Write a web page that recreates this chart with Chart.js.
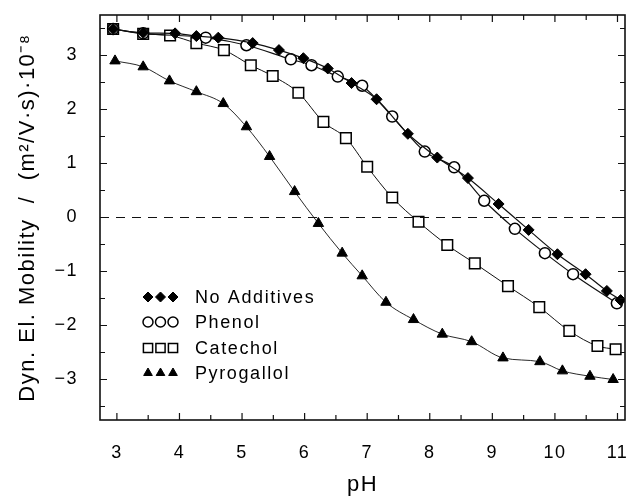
<!DOCTYPE html>
<html>
<head>
<meta charset="utf-8">
<script src="https://cdn.jsdelivr.net/npm/chart.js@4.4.0/dist/chart.umd.min.js"></script>
<style>
  body { margin: 0; background: #fff; }
  #wrap { width: 626px; height: 501px; }
</style>
</head>
<body>
<div id="wrap"><canvas id="mobChart" width="626" height="501"></canvas></div>
<script>
// values
const seriesNames = ['No Additives', 'Phenol', 'Catechol', 'Pyrogallol'];

const phNoAdd  = [2.94, 3.42, 3.93, 4.27, 4.62, 5.17, 5.59, 5.98, 6.37, 6.75, 7.15, 7.65, 8.12, 8.61, 9.10, 9.58, 10.04, 10.49, 10.83, 11.05];
const mobNoAdd = [3.49, 3.42, 3.41, 3.36, 3.33, 3.23, 3.10, 2.95, 2.76, 2.49, 2.19, 1.55, 1.11, 0.73, 0.25, -0.23, -0.68, -1.05, -1.36, -1.53];

const phPhenol  = [2.94, 3.42, 4.42, 5.07, 5.78, 6.11, 6.53, 6.92, 7.40, 7.92, 8.39, 8.87, 9.36, 9.84, 10.29, 10.99];
const mobPhenol = [3.49, 3.41, 3.33, 3.19, 2.93, 2.82, 2.61, 2.44, 1.87, 1.22, 0.93, 0.31, -0.21, -0.66, -1.05, -1.59];

const phCatechol  = [2.94, 3.42, 3.85, 4.27, 4.71, 5.14, 5.49, 5.90, 6.30, 6.66, 7.00, 7.40, 7.82, 8.28, 8.72, 9.25, 9.75, 10.23, 10.68, 10.97];
const mobCatechol = [3.49, 3.40, 3.37, 3.23, 3.10, 2.82, 2.62, 2.31, 1.77, 1.47, 0.94, 0.37, -0.08, -0.51, -0.85, -1.27, -1.66, -2.10, -2.38, -2.44];

const phPyro  = [2.97, 3.42, 3.84, 4.27, 4.70, 5.07, 5.44, 5.84, 6.22, 6.60, 6.92, 7.30, 7.74, 8.20, 8.67, 9.17, 9.76, 10.12, 10.56, 10.93];
const mobPyro = [2.90, 2.79, 2.53, 2.33, 2.11, 1.68, 1.13, 0.48, -0.11, -0.66, -1.08, -1.57, -1.89, -2.16, -2.30, -2.60, -2.67, -2.84, -2.94, -3.00];

const xTickVals = [3, 4, 5, 6, 7, 8, 9, 10, 11];
const yTickVals = [-3, -2, -1, 0, 1, 2, 3];

const FONT = '"Liberation Sans", Arial, Helvetica, sans-serif';

const toPoints = (xs, ys) => xs.map((x, i) => ({ x: x, y: ys[i] }));

const seriesStyle = [
  { pointStyle: 'rectRot', radius: 5.5, bg: '#000', bw: 1, lw: 1.2 },
  { pointStyle: 'circle', radius: 5.5, bg: '#fff', bw: 1.5, lw: 1.2 },
  { pointStyle: 'rect', radius: 7.5, bg: '#fff', bw: 1.5, lw: 1 },
  { pointStyle: 'triangle', radius: 6, bg: '#000', bw: 1, lw: 0.9 }
];

const seriesData = [
  toPoints(phNoAdd, mobNoAdd),
  toPoints(phPhenol, mobPhenol),
  toPoints(phCatechol, mobCatechol),
  toPoints(phPyro, mobPyro)
];

const datasets = seriesNames.map((name, i) => ({
  label: name,
  data: seriesData[i],
  showLine: true,
  cubicInterpolationMode: 'monotone',
  borderColor: '#111',
  borderWidth: seriesStyle[i].lw,
  pointStyle: seriesStyle[i].pointStyle,
  pointRadius: seriesStyle[i].radius,
  pointBackgroundColor: seriesStyle[i].bg,
  pointBorderColor: '#000',
  pointBorderWidth: seriesStyle[i].bw
}));

// no extra padding from tick labels, chart area is fixed by layout
const noPad = s => { s.paddingTop = 0; s.paddingBottom = 0; s.paddingLeft = 0; s.paddingRight = 0; };

// frame, inward ticks, dashed zero line, legend
const framePlugin = {
  id: 'framePlugin',
  beforeDraw(chart) {
    chart.ctx.letterSpacing = '1.5px';
  },
  afterDraw(chart) {
    const ctx = chart.ctx;
    const a = chart.chartArea;
    const xs = chart.scales.x;
    const ys = chart.scales.y;
    ctx.save();
    ctx.strokeStyle = '#111';

    // zero line
    const y0 = ys.getPixelForValue(0);
    ctx.lineWidth = 1;
    ctx.setLineDash([9, 7]);
    ctx.beginPath();
    ctx.moveTo(a.left, y0);
    ctx.lineTo(a.right, y0);
    ctx.stroke();
    ctx.setLineDash([]);

    // frame
    ctx.lineWidth = 1.6;
    ctx.strokeRect(a.left, a.top, a.right - a.left, a.bottom - a.top);

    // ticks on all four sides, pointing in
    ctx.lineWidth = 1.2;
    ctx.beginPath();
    for (let v = Math.ceil(xs.min * 2) / 2; v <= xs.max; v += 0.5) {
      const px = xs.getPixelForValue(v);
      const len = Number.isInteger(v) ? 7 : 5;
      ctx.moveTo(px, a.bottom); ctx.lineTo(px, a.bottom - len);
      ctx.moveTo(px, a.top); ctx.lineTo(px, a.top + len);
    }
    for (let v = Math.ceil(ys.min * 2) / 2; v <= ys.max; v += 0.5) {
      const py = ys.getPixelForValue(v);
      const len = Number.isInteger(v) ? 7 : 5;
      ctx.moveTo(a.left, py); ctx.lineTo(a.left + len, py);
      ctx.moveTo(a.right, py); ctx.lineTo(a.right - len, py);
    }
    ctx.stroke();

    // legend
    const rowY = [297, 322, 348, 373];
    const markX = [148, 160.5, 173];
    ctx.font = '18px ' + FONT;
    ctx.letterSpacing = '1.6px';
    ctx.textBaseline = 'middle';
    ctx.textAlign = 'left';
    ctx.fillStyle = '#000';
    chart.data.datasets.forEach((ds, i) => {
      const st = seriesStyle[i];
      markX.forEach(mx => {
        ctx.fillStyle = st.bg;
        ctx.strokeStyle = '#000';
        ctx.lineWidth = st.bw;
        Chart.helpers.drawPoint(ctx, {
          pointStyle: st.pointStyle,
          radius: st.pointStyle === 'rect' ? 6.5 : 5,
          borderWidth: st.bw,
          rotation: 0
        }, mx, rowY[i]);
      });
      ctx.fillStyle = '#000';
      ctx.fillText(ds.label, 195, rowY[i] + 1);
    });
    ctx.restore();
    ctx.letterSpacing = '0px';
  }
};

new Chart(document.getElementById('mobChart'), {
  type: 'scatter',
  data: { datasets: datasets },
  options: {
    responsive: false,
    animation: false,
    layout: { autoPadding: false, padding: { top: 15, right: 1, left: 0, bottom: 0 } },
    plugins: {
      legend: { display: false },
      tooltip: { enabled: false }
    },
    scales: {
      x: {
        type: 'linear',
        min: 2.73,
        max: 11.12,
        afterBuildTicks: s => { s.ticks = xTickVals.map(v => ({ value: v })); },
        afterFit: s => { s.height = 81; noPad(s); },
        grid: { display: false, drawTicks: false },
        border: { display: false },
        ticks: { color: '#000', padding: 22, font: { family: FONT, size: 18 } },
        title: { display: true, text: 'pH', color: '#000', padding: { top: 0, bottom: 3 }, font: { family: FONT, size: 22 } }
      },
      y: {
        type: 'linear',
        min: -3.75,
        max: 3.75,
        afterBuildTicks: s => { s.ticks = yTickVals.map(v => ({ value: v })); },
        afterFit: s => { s.width = 100; noPad(s); },
        grid: { display: false, drawTicks: false },
        border: { display: false },
        ticks: {
          color: '#000',
          padding: 22,
          font: { family: FONT, size: 18 },
          callback: v => (v < 0 ? '\u2212' + Math.abs(v) : String(v))
        },
        title: {
          display: true,
          text: 'Dyn. El. Mobility  /  (m\u00b2/V\u00b7s)\u00b710\u207b\u2078',
          color: '#000',
          padding: { top: 15, bottom: 0 },
          font: { family: FONT, size: 22 }
        }
      }
    }
  },
  plugins: [framePlugin]
});
</script>
</body>
</html>
